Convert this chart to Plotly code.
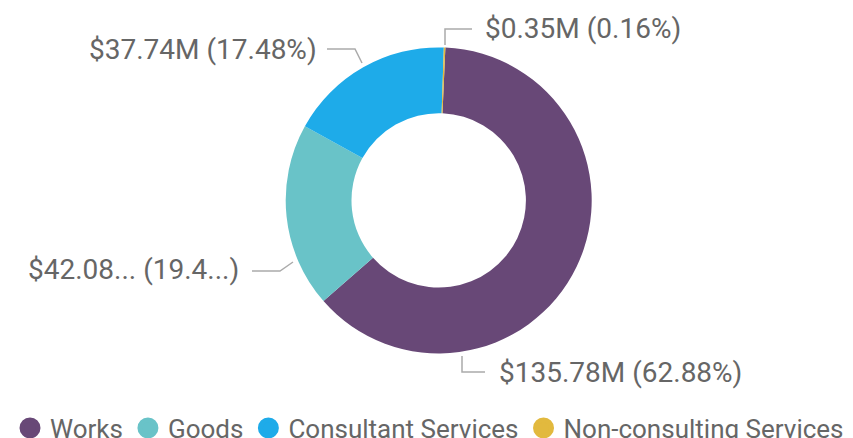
import plotly.graph_objects as go

# ---- data ----
categories = ["Works", "Goods", "Consultant Services", "Non-consulting Services"]
values_musd = [135.78, 42.08, 37.74, 0.35]
data_labels = ["$135.78M (62.88%)", "$42.08... (19.4...)", "$37.74M (17.48%)", "$0.35M (0.16%)"]

# ---- styles / layout constants ----
colors = ["#684877", "#69C3C8", "#1EABE9", "#E2B93E"]
W, H = 853, 438
FONT = "Roboto"
TEXT_COLOR = "#666666"
LINE_COLOR = "#ABABAB"

# pie placement (pixels)
cx, cy, R = 438.7, 200.4, 153.0

def px(x):
    return x / W

def py(y):
    return 1 - y / H

# label leader lines: start, elbow, end (pixels) and text anchor
label_layout = [
    dict(pts=[(462, 356), (462, 372), (485, 372)], tx=497, ty=372, anchor="left"),
    dict(pts=[(293, 262), (280, 271), (252, 271)], tx=241, ty=269, anchor="right"),
    dict(pts=[(362, 63), (355, 49), (327, 49)], tx=319, ty=50, anchor="right"),
    dict(pts=[(445, 45), (445, 29), (472, 29)], tx=483, ty=28, anchor="left"),
]

fig = go.Figure()
fig.add_trace(go.Pie(
    labels=categories,
    values=values_musd,
    hole=0.57,
    sort=False,
    direction="clockwise",
    rotation=2.5,
    marker=dict(colors=colors, line=dict(width=0)),
    textinfo="none",
    showlegend=False,
    domain=dict(x=[px(cx - R), px(cx + R)], y=[py(cy + R), py(cy - R)]),
))

# legend entries with round markers
for name, col in zip(categories, colors):
    fig.add_trace(go.Scatter(
        x=[None], y=[None], mode="markers", name=name,
        marker=dict(symbol="circle", size=16, color=col, line=dict(width=5, color=col)),
        hoverinfo="skip",
    ))

shapes = []
annotations = []
for lab, lay in zip(data_labels, label_layout):
    p = lay["pts"]
    path = "M {} {} ".format(px(p[0][0]), py(p[0][1])) + " ".join(
        "L {} {}".format(px(x), py(y)) for x, y in p[1:])
    shapes.append(dict(type="path", xref="paper", yref="paper", path=path,
                       line=dict(color=LINE_COLOR, width=1.5)))
    annotations.append(dict(
        x=px(lay["tx"]), y=py(lay["ty"]), xref="paper", yref="paper",
        text=lab, showarrow=False, xanchor=lay["anchor"], yanchor="middle",
        font=dict(family=FONT, size=28, color=TEXT_COLOR),
    ))

fig.update_layout(
    width=W, height=H,
    margin=dict(l=0, r=0, t=0, b=0, autoexpand=False),
    paper_bgcolor="white", plot_bgcolor="white",
    xaxis=dict(visible=False), yaxis=dict(visible=False),
    shapes=shapes, annotations=annotations,
    showlegend=True,
    legend=dict(orientation="h", x=px(10), xanchor="left", y=py(428), yanchor="middle",
                font=dict(family=FONT, size=26, color=TEXT_COLOR),
                itemclick=False, itemdoubleclick=False, traceorder="normal"),
    font=dict(family=FONT, color=TEXT_COLOR),
)

fig.write_html("out.html", config={"displayModeBar": False},
               post_script="document.body.style.margin='0';")
